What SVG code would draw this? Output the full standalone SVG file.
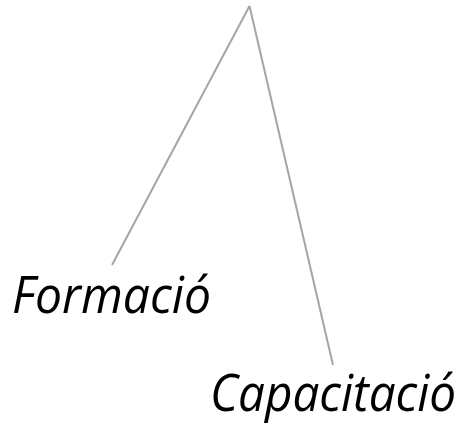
<svg xmlns="http://www.w3.org/2000/svg" width="465" height="424" viewBox="0 0 465 424">
<style>
.c{stroke:#a5a5a5;stroke-width:2;fill:none}
.t{font-family:"Open Sans","Liberation Sans",sans-serif;font-style:italic;font-size:52px;fill:#000}
</style>
<rect width="465" height="424" fill="#fff"/>
<g id="connectors">
<line class="c" x1="249.5" y1="6" x2="112" y2="265"/>
<line class="c" x1="249.5" y1="6" x2="333" y2="365"/>
</g>
<g id="node-formacio"><text class="t" x="12" y="313" textLength="199" lengthAdjust="spacingAndGlyphs">Formació</text></g>
<g id="node-capacitacio"><text class="t" x="210" y="411" textLength="246" lengthAdjust="spacingAndGlyphs">Capacitació</text></g>
</svg>
